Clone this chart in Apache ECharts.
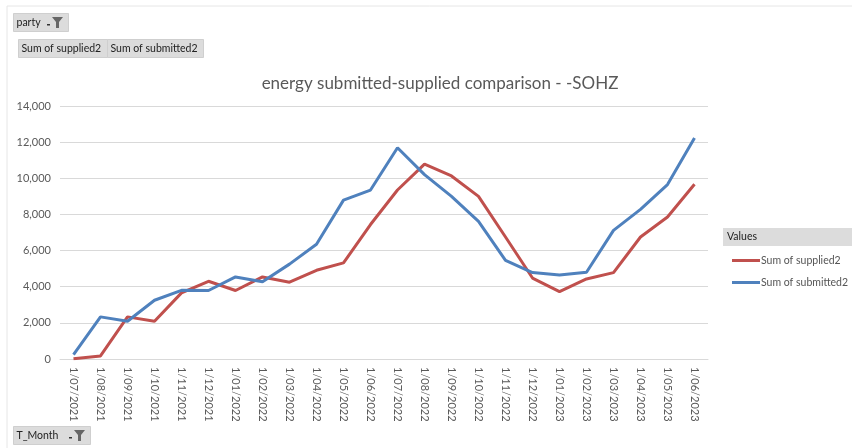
<!DOCTYPE html>
<html>
<head>
<meta charset="utf-8">
<script src="https://cdn.jsdelivr.net/npm/echarts@6/dist/echarts.min.js"></script>
<style>
  html, body { margin: 0; padding: 0; background: #fff; }
  #main { width: 852px; height: 448px; }
</style>
</head>
<body>
<div id="main"></div>
<script>
// months on the x axis
var months = ['1/07/2021', '1/08/2021', '1/09/2021', '1/10/2021', '1/11/2021', '1/12/2021',
  '1/01/2022', '1/02/2022', '1/03/2022', '1/04/2022', '1/05/2022', '1/06/2022',
  '1/07/2022', '1/08/2022', '1/09/2022', '1/10/2022', '1/11/2022', '1/12/2022',
  '1/01/2023', '1/02/2023', '1/03/2023', '1/04/2023', '1/05/2023', '1/06/2023']
// Sum of supplied2
var supplied = [20, 170, 2330, 2090, 3660, 4300, 3790, 4540, 4250, 4910, 5320, 7440,
  9350, 10780, 10130, 9000, 6750, 4480, 3730, 4430, 4780, 6750, 7860, 9670]
// Sum of submitted2
var submitted = [240, 2330, 2090, 3250, 3800, 3790, 4540, 4270, 5250, 6350, 8790, 9350,
  11690, 10200, 9000, 7620, 5460, 4780, 4650, 4800, 7120, 8280, 9650, 12230]

var font = 'Lato, "Open Sans", sans-serif'
var myChart = echarts.init(document.getElementById('main'))

// pivot field buttons
function button(x, y, w, h, label) {
  return {
    type: 'group', left: x, top: y,
    children: [
      { type: 'rect', shape: { x: 0, y: 0, width: w, height: h },
        style: { fill: '#dcdcdc', stroke: '#cfcfcf', lineWidth: 1 } },
      { type: 'text', x: 3, y: h / 2,
        style: { text: label, fill: '#222', font: '10.5px ' + font, verticalAlign: 'middle' } }
    ]
  }
}
function funnel(x, y) {
  return { type: 'group', left: x, top: y, children: [
    { type: 'rect', shape: { x: 0, y: 7, width: 3, height: 1.5 }, style: { fill: '#333' } },
    { type: 'polygon', shape: { points: [[5, 0], [16, 0], [12, 5], [12, 11], [9, 11], [9, 5]] },
      style: { fill: '#666' } }
  ] }
}

var option = {
  backgroundColor: '#fff',
  title: {
    text: 'energy submitted-supplied comparison - -SOHZ',
    left: 435, top: 70, textAlign: 'center',
    textStyle: { color: '#595959', fontSize: 17, fontWeight: 'normal', fontFamily: font }
  },
  graphic: [
    { type: 'line', shape: { x1: 7, y1: 6, x2: 852, y2: 6 }, style: { stroke: '#e6e6e6', lineWidth: 1 } },
    { type: 'line', shape: { x1: 7, y1: 6, x2: 7, y2: 448 }, style: { stroke: '#e6e6e6', lineWidth: 1 } },
    button(13, 13, 55, 18, 'party'),
    funnel(47, 17),
    button(18, 39, 89, 18, 'Sum of supplied2'),
    button(107, 39, 96, 18, 'Sum of submitted2'),
    button(13, 426, 77, 18, 'T_Month'),
    funnel(69, 430),
    { type: 'rect', shape: { x: 723, y: 228, width: 129, height: 18 },
      style: { fill: '#dcdcdc' } },
    { type: 'text', x: 727, y: 237,
      style: { text: 'Values', fill: '#222', font: '10.5px ' + font, verticalAlign: 'middle' } }
  ],
  legend: {
    left: 727, top: 250, orient: 'vertical',
    itemWidth: 28, itemHeight: 3, itemGap: 11, icon: 'rect',
    textStyle: { color: '#555', fontSize: 10.5, fontFamily: font, padding: [0, 0, 0, -4] },
    data: ['Sum of supplied2', 'Sum of submitted2']
  },
  grid: { left: 60, top: 106, width: 648, height: 253 },
  xAxis: {
    type: 'category',
    data: months,
    axisLine: { lineStyle: { color: '#d9d9d9' } },
    axisTick: { show: false },
    axisLabel: { rotate: -90, color: '#595959', fontSize: 11, fontFamily: font, margin: 8 }
  },
  yAxis: {
    type: 'value',
    min: 0, max: 14000, interval: 2000,
    axisLine: { show: false },
    axisTick: { show: false },
    axisLabel: {
      color: '#595959', fontSize: 11, fontFamily: font, margin: 9,
      formatter: function (v) { return v.toLocaleString('en-US') }
    },
    splitLine: { lineStyle: { color: '#d9d9d9' } }
  },
  series: [
    { name: 'Sum of supplied2', type: 'line', data: supplied, symbol: 'none',
      color: '#c0504d', lineStyle: { width: 3, color: '#c0504d' } },
    { name: 'Sum of submitted2', type: 'line', data: submitted, symbol: 'none',
      color: '#4f81bd', lineStyle: { width: 3, color: '#4f81bd' } }
  ]
}
myChart.setOption(option)
</script>
</body>
</html>
